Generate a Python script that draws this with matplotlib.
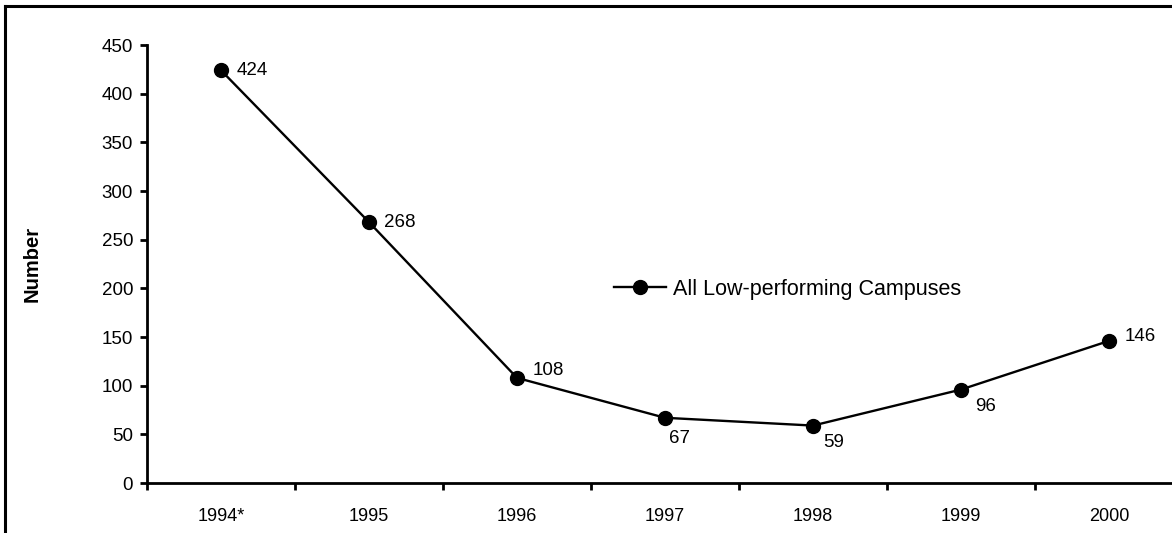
import numpy as np
import matplotlib
matplotlib.use("Agg")
import matplotlib.pyplot as plt
from matplotlib.lines import Line2D

# data
years = ["1994*", "1995", "1996", "1997", "1998", "1999", "2000"]
campuses = [424, 268, 108, 67, 59, 96, 146]
# label offsets in points (dx, dy) per point
label_offsets = [(11, 0), (11, 0), (11, 5), (3, -15), (7, -12), (10, -12), (11, 3)]

plt.rcParams['font.family'] = ['Liberation Sans Narrow', 'DejaVu Sans Condensed',
                               'Liberation Sans', 'DejaVu Sans']

fig = plt.figure(figsize=(11.72, 5.33), dpi=100)
ax = fig.add_axes([147 / 1172, 50 / 533, 1036 / 1172, 438 / 533])

x = np.arange(len(years))
ax.plot(x, campuses, color='black', lw=1.7, marker='o', markersize=10,
        label='All Low-performing Campuses')

for xi, v, (dx, dy) in zip(x, campuses, label_offsets):
    ax.annotate(str(v), (xi, v), xytext=(dx, dy), textcoords='offset points',
                ha='left', va='center', fontsize=13.5)

ax.set_xlim(-0.5, len(years) - 0.5)
ax.set_ylim(0, 450)
ax.set_yticks(np.arange(0, 451, 50))

# ticks between categories, labels at category centres
ax.set_xticks(np.arange(-0.5, len(years), 1.0))
ax.set_xticklabels([])
ax.set_xticks(x, minor=True)
ax.set_xticklabels(years, minor=True)
ax.tick_params(axis='x', which='major', length=5, width=2, direction='out')
ax.tick_params(axis='x', which='minor', length=0, pad=18, labelsize=13)
ax.tick_params(axis='y', length=5, width=2, direction='out', pad=5, labelsize=13.5)

for s in ['top', 'right']:
    ax.spines[s].set_visible(False)
for s in ['left', 'bottom']:
    ax.spines[s].set_linewidth(2)

ax.set_ylabel('Number', fontsize=14.5, fontweight='bold')
ax.yaxis.set_label_coords(-0.102, 0.5)

ax.legend(loc='center left', bbox_to_anchor=(0.432, 0.442), frameon=False,
          fontsize=15.5, handlelength=2.4, handletextpad=0.35)

# frame lines at top and left of figure
fig.add_artist(Line2D([5 / 1172, 1], [1 - 6 / 533, 1 - 6 / 533], color='black', lw=2.2))
fig.add_artist(Line2D([5 / 1172, 5 / 1172], [0, 1 - 6 / 533], color='black', lw=2.2))

fig.savefig('out.png', dpi=100)
